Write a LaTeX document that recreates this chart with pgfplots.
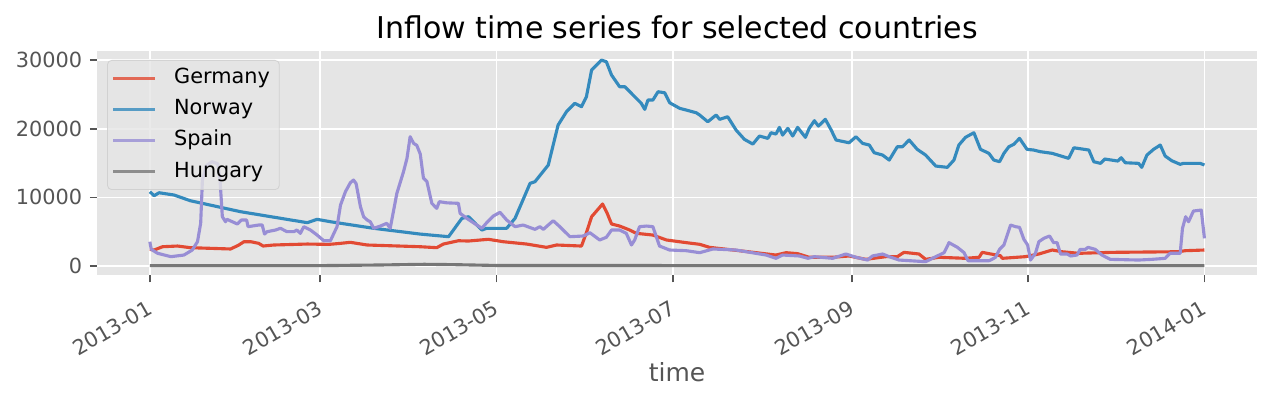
\documentclass[border=0pt]{standalone}
\usepackage{fontspec}
\setmainfont{DejaVu Sans}
\usepackage{pgfplots}
\pgfplotsset{compat=1.18}
\definecolor{bggray}{HTML}{E5E5E5}
\definecolor{tickgray}{HTML}{555555}
\definecolor{cRed}{HTML}{E24A33}
\definecolor{cBlue}{HTML}{348ABD}
\definecolor{cPurple}{HTML}{988ED5}
\definecolor{cGray}{HTML}{777777}
\definecolor{legedge}{HTML}{CCCCCC}
\begin{document}
\begin{tikzpicture}
\begin{axis}[
  scale only axis, width=556.8pt, height=107.5pt,
  xmin=-18.25, xmax=383.25, ymin=-1310, ymax=31310,
  scaled y ticks=false,
  axis background/.style={fill=bggray},
  axis line style={draw=none},
  grid=major, major grid style={white, line width=0.8pt},
  tick align=outside, xtick pos=bottom, ytick pos=left,
  major tick length=3.5pt,
  tick style={tickgray, line width=0.8pt},
  xtick={0,59,120,181,243,304,365},
  xticklabels={2013-01,2013-03,2013-05,2013-07,2013-09,2013-11,2014-01},
  ytick={0,10000,20000,30000},
  yticklabels={0,10000,20000,30000},
  ticklabel style={font=\fontsize{10}{12}\selectfont, text=tickgray},
  xticklabel style={rotate=30, anchor=north east, inner sep=0pt, xshift=-5.5pt, yshift=-6pt},
  yticklabel style={anchor=east, inner sep=0pt, xshift=-3.5pt},
  title={Inflow time series for selected countries},
  title style={font=\fontsize{14.4}{17}\selectfont, at={(0.5,1)}, anchor=base, yshift=0pt},
  xlabel={time},
  xlabel style={font=\fontsize{12}{14}\selectfont, text=tickgray, at={(0.5,0)}, anchor=base, yshift=-51pt},
  legend style={at={(0.0086,0.96)}, anchor=north west, fill=bggray, fill opacity=0.8, draw opacity=0.8, text opacity=1,
    draw=legedge, rounded corners=2pt, font=\fontsize{10}{12}\selectfont, inner xsep=2pt, inner ysep=1pt,
    nodes={inner sep=2.5pt, text height=7.5pt, text depth=2.5pt}},
  legend cell align=left,
  legend image code/.code={\draw[#1, line width=1.5pt] (0pt,0pt) -- (20pt,0pt); \path (26pt,0pt);},
  every axis plot/.append style={line width=1.5pt, line join=round},
]
\addplot[cRed] coordinates {
(0,2430)(1.5,2330)(4.4,2810)(9.6,2910)(14,2670)(28,2480)(30.8,3060)(32.6,3540)(34.9,3540)(37.7,3300)
(39.2,2910)(42.9,3060)(54.5,3200)(62,3150)(66,3300)(69.4,3450)(75.2,3060)(93.6,2810)(99.3,2670)
(101.6,3200)(106.8,3680)(110.3,3640)(117.2,3890)(122.3,3540)(130.4,3200)(137.3,2720)(140.8,3060)
(149.4,2910)(151.1,4850)(152.9,7180)(156.7,9030)(158.3,7670)(159.8,6120)(162.6,5820)(166.1,5240)
(168.4,4760)(174.1,4510)(178.8,3790)(185.7,3400)(190.3,3160)(193.7,2720)(204,2230)(216.7,1600)
(220.2,1940)(224.2,1800)(228.2,1270)(236.3,1270)(242,1460)(247.8,970)(254.7,1360)(258.7,1360)
(261,1990)(266.2,1750)(268.5,970)(273.1,1270)(282.3,1120)(287,1270)(288.1,1990)(290.4,1800)
(294.4,1500)(295,1120)(303,1360)(307.7,1750)(312.3,2330)(315.7,2080)(321.5,1850)(333,1990)
(356,2080)(358.3,2230)(365,2330)};
\addlegendentry{Germany}
\addplot[cBlue] coordinates {
(0,10820)(1.5,10240)(3.2,10670)(8.4,10340)(14,9510)(31.4,7910)(54.5,6310)(57.9,6800)(62.5,6450)
(77.5,5490)(93.6,4650)(103.4,4270)(108,6940)(110.3,7180)(114.9,5240)(116.6,5490)(123.5,5490)
(126.4,6940)(131.6,12040)(133.3,12280)(137.9,14700)(141.3,20530)(144.2,22470)(147.1,23690)
(149.4,23200)(151.1,24650)(152.9,28540)(156.3,29990)(158,29750)(159.8,27810)(162.6,26110)
(164.4,26110)(170.1,23690)(171.3,22810)(172.4,24170)(174.1,24170)(175.9,25380)(178.2,25230)
(179.9,23780)(183.4,22960)(185.7,22710)(189.1,22320)(190.3,21990)(193.1,21010)(196,21990)
(197.2,21360)(200,21740)(202.9,19800)(205.8,18440)(208.7,17760)(211,18930)(213.9,18590)
(215,19410)(216.7,19220)(217.9,20190)(219,19070)(220.8,20050)(222.5,18930)(224.2,20190)
(226.9,18740)(228.2,20050)(230,21160)(231.4,20380)(233.8,21360)(235.7,19900)(237.5,18350)
(242,17950)(244.4,18830)(246.7,17860)(249,17620)(250.7,16500)(253.6,16160)(255.9,15430)
(258.7,17370)(260.5,17370)(262.8,18350)(265.6,16990)(268.5,16160)(272,14560)(276,14370)
(278.3,15430)(280,17620)(282.3,18740)(285.2,19410)(287.5,16990)(290.4,16410)(292.1,15430)
(294.1,15190)(295.6,16410)(297.3,17370)(299,17720)(301,18590)(303.6,16990)(305.9,16890)
(308.2,16650)(312.3,16410)(318,15680)(319.8,17220)(325,16890)(326.7,15190)(329,14950)
(330.5,15580)(335,15290)(336.2,15770)(337.6,15040)(342.2,14950)(343.3,14370)(345.1,16160)
(347.4,16990)(349.7,17620)(351.4,16020)(353.7,15330)(356.6,14810)(357.7,14950)(363.5,14950)
(365,14710)};
\addlegendentry{Norway}
\addplot[cPurple] coordinates {
(0,3540)(0.5,2430)(2.7,1850)(7.3,1360)(11.8,1600)(14.7,2330)(16.5,3540)(17.6,6220)(18.2,12520)
(19.5,14600)(21.5,15200)(23.5,14900)(24.3,12520)(25.1,7180)(26.2,6450)(26.7,6800)(30.3,6120)
(31.7,6700)(33.5,6700)(34,5730)(37.7,5970)(38.9,5970)(39.7,4660)(40.6,5000)(43.5,5240)
(45.2,5490)(47.5,5000)(49.8,5000)(50.9,5240)(52.1,4760)(53.3,5730)(55.6,5240)(57.9,4510)
(60.2,3680)(62.5,3680)(64.8,5730)(66,8880)(67.7,10820)(69.4,12130)(70.5,12520)(71.4,12000)
(72.9,8640)(74,7180)(75.2,6700)(76.3,6450)(77.5,5490)(79.8,5820)(82,6220)(83.2,5490)
(85.5,10580)(87.8,13730)(89,15680)(90.1,18830)(91.3,17860)(92.4,17570)(93.6,16300)(94.7,12800)
(95.9,12300)(97.6,9130)(99.3,8400)(100.2,9370)(102.8,9200)(106.8,9130)(107.4,7670)(109.7,6940)
(114.9,5490)(116.6,6310)(118.9,7280)(121.2,7820)(123.5,6700)(126.4,5730)(129.2,5970)(133.3,5340)
(135,5730)(136.2,5340)(139.6,6600)(141.9,5730)(145.4,4270)(150,4370)(152.3,4850)(155.7,3790)
(158,4180)(159.8,5240)(162.6,5240)(164.9,4760)(166.7,3060)(167.8,3790)(169.5,5730)(171.9,5820)
(174.1,5730)(176.4,2910)(179.9,2330)(185.7,2230)(190.3,1940)(194.9,2480)(202.9,2330)(213.3,1600)
(216.7,1120)(219,1600)(224.8,1460)(227.8,1120)(230,1360)(236.3,1120)(240.9,1750)(244.4,1270)
(248.4,870)(250.1,1460)(253.6,1750)(255.9,1360)(259.3,870)(268.5,630)(272,1360)(274.9,1940)
(276.6,3400)(279.5,2720)(281.8,1940)(283.2,770)(290.4,770)(291,870)(292.7,1270)(294.1,2430)
(295.6,3060)(297.9,5970)(299.6,5730)(301,5630)(302.5,3890)(303.8,3060)(304.8,870)(306.5,1850)
(307.7,3540)(309.4,4030)(311.4,4370)(312.8,3400)(314,3400)(315.2,1750)(317.5,1750)(318.7,1460)
(320.9,1600)(322,2430)(323.8,2430)(324.7,2720)(327.2,2430)(329.5,1600)(332.4,970)(342.2,870)
(346.8,970)(351.4,1120)(353.1,1850)(356.6,1850)(357.4,5490)(358.5,7180)(359.5,6450)(361.2,8010)
(363.9,8150)(365,4030)};
\addlegendentry{Spain}
\addplot[cGray] coordinates {
(0,50)(60,60)(80,150)(95,250)(105,200)(120,80)(200,60)(365,50)};
\addlegendentry{Hungary}
\end{axis}
\pgfresetboundingbox
\path[use as bounding box] (-46.6pt,-59.5pt) rectangle (564.4pt,132pt);
\end{tikzpicture}
\end{document}
